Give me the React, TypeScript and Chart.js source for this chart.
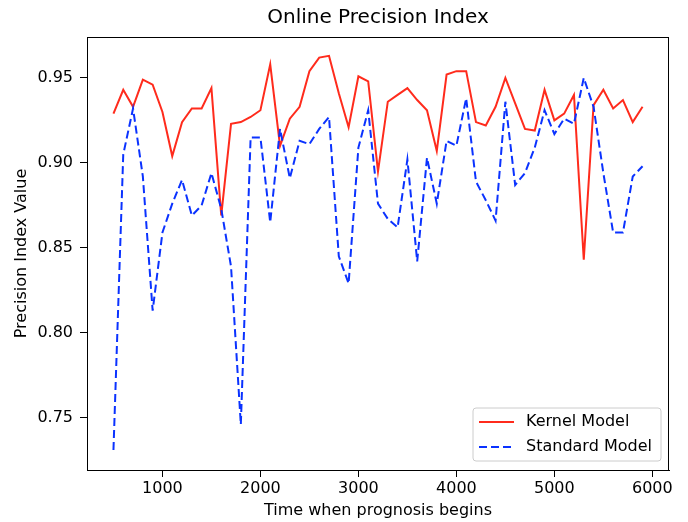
import React, { useEffect, useRef } from "react";
import { Chart, registerables } from "chart.js";

Chart.register(...registerables);

const startTimes = [
  500, 600, 700, 800, 900, 1000, 1100, 1200, 1300, 1400,
  1500, 1600, 1700, 1800, 1900, 2000, 2100, 2200, 2300, 2400,
  2500, 2600, 2700, 2800, 2900, 3000, 3100, 3200, 3300, 3400,
  3500, 3600, 3700, 3800, 3900, 4000, 4100, 4200, 4300, 4400,
  4500, 4600, 4700, 4800, 4900, 5000, 5100, 5200, 5300, 5400,
  5500, 5600, 5700, 5800, 5900,
];

const kernelModel = [
  0.929, 0.943, 0.933, 0.949, 0.946, 0.930, 0.904, 0.924, 0.932, 0.932,
  0.944, 0.869, 0.923, 0.924, 0.927, 0.931, 0.958, 0.910, 0.926, 0.933,
  0.954, 0.962, 0.963, 0.941, 0.921, 0.951, 0.948, 0.895, 0.936, 0.940,
  0.944, 0.937, 0.931, 0.907, 0.952, 0.954, 0.954, 0.924, 0.922, 0.933,
  0.950, 0.935, 0.920, 0.919, 0.943, 0.925, 0.929, 0.940, 0.843, 0.934,
  0.943, 0.932, 0.937, 0.924, 0.933,
];

const standardModel = [
  0.731, 0.905, 0.932, 0.892, 0.813, 0.859, 0.876, 0.890, 0.869, 0.875,
  0.894, 0.873, 0.839, 0.746, 0.915, 0.915, 0.865, 0.920, 0.891, 0.913,
  0.911, 0.920, 0.927, 0.845, 0.829, 0.909, 0.931, 0.876, 0.867, 0.862,
  0.902, 0.842, 0.903, 0.876, 0.913, 0.910, 0.938, 0.889, 0.878, 0.866,
  0.936, 0.887, 0.894, 0.909, 0.931, 0.917, 0.926, 0.923, 0.950, 0.933,
  0.894, 0.859, 0.859, 0.892, 0.898,
];

const xTicks = [1000, 2000, 3000, 4000, 5000, 6000];
const yTicks = [0.75, 0.8, 0.85, 0.9, 0.95];

const seriesNames = ["Kernel Model", "Standard Model"];
const chartTitle = "Online Precision Index";
const xLabel = "Time when prognosis begins";
const yLabel = "Precision Index Value";

const FONT = "'DejaVu Sans', sans-serif";
const RED = "#ff2b1c";
const BLUE = "#0a32ff";

const decorPlugin = {
  id: "decor",
  afterDraw(chart: any) {
    const { ctx, chartArea } = chart;
    const { left, right, top, bottom } = chartArea;
    ctx.save();
    // frame
    ctx.strokeStyle = "#000";
    ctx.lineWidth = 1;
    ctx.strokeRect(Math.round(left) + 0.5, Math.round(top) + 0.5, Math.round(right - left) - 1, Math.round(bottom - top));

    // title
    ctx.fillStyle = "#000";
    ctx.textAlign = "center";
    ctx.textBaseline = "middle";
    ctx.font = `20px ${FONT}`;
    ctx.fillText(chartTitle, (left + right) / 2, 18);

    // x label
    ctx.font = `16px ${FONT}`;
    ctx.fillText(xLabel, (left + right) / 2, 511);

    // y label
    ctx.save();
    ctx.translate(22, (top + bottom) / 2);
    ctx.rotate(-Math.PI / 2);
    ctx.fillText(yLabel, 0, 0);
    ctx.restore();

    // legend
    const bx = 473, by = 408, bw = 188, bh = 53, r = 3;
    ctx.beginPath();
    ctx.moveTo(bx + r, by);
    ctx.lineTo(bx + bw - r, by);
    ctx.quadraticCurveTo(bx + bw, by, bx + bw, by + r);
    ctx.lineTo(bx + bw, by + bh - r);
    ctx.quadraticCurveTo(bx + bw, by + bh, bx + bw - r, by + bh);
    ctx.lineTo(bx + r, by + bh);
    ctx.quadraticCurveTo(bx, by + bh, bx, by + bh - r);
    ctx.lineTo(bx, by + r);
    ctx.quadraticCurveTo(bx, by, bx + r, by);
    ctx.closePath();
    ctx.fillStyle = "rgba(255,255,255,0.8)";
    ctx.fill();
    ctx.strokeStyle = "#cccccc";
    ctx.lineWidth = 1;
    ctx.stroke();

    const rows = [
      { name: seriesNames[0], color: RED, dash: [] as number[], y: 422 },
      { name: seriesNames[1], color: BLUE, dash: [8, 4], y: 447 },
    ];
    rows.forEach((row) => {
      ctx.beginPath();
      ctx.setLineDash(row.dash);
      ctx.strokeStyle = row.color;
      ctx.lineWidth = 2;
      ctx.moveTo(479, row.y);
      ctx.lineTo(514, row.y);
      ctx.stroke();
      ctx.setLineDash([]);
      ctx.fillStyle = "#000";
      ctx.textAlign = "left";
      ctx.textBaseline = "middle";
      ctx.font = `16px ${FONT}`;
      ctx.fillText(row.name, 526, row.y);
    });
    ctx.restore();
  },
};

export default function App() {
  const canvasRef = useRef<HTMLCanvasElement>(null);

  useEffect(() => {
    const canvas = canvasRef.current;
    if (!canvas) return;
    const chart = new Chart(canvas, {
      type: "line",
      data: {
        datasets: [
          {
            label: seriesNames[0],
            data: startTimes.map((x, i) => ({ x, y: kernelModel[i] })),
            borderColor: RED,
            borderWidth: 2,
            pointRadius: 0,
            tension: 0,
            fill: false,
            order: 1,
          },
          {
            label: seriesNames[1],
            data: startTimes.map((x, i) => ({ x, y: standardModel[i] })),
            borderColor: BLUE,
            borderWidth: 2,
            borderDash: [8, 4],
            pointRadius: 0,
            tension: 0,
            fill: false,
            order: 0,
          },
        ],
      },
      options: {
        responsive: false,
        animation: false,
        layout: { padding: { top: 37, right: 19, left: 0, bottom: 0 } },
        plugins: {
          legend: { display: false },
          title: { display: false },
          tooltip: { enabled: false },
        },
        scales: {
          x: {
            type: "linear",
            min: 230,
            max: 6170,
            afterBuildTicks: (scale: any) => {
              scale.ticks = xTicks.map((v) => ({ value: v }));
            },
            afterFit: (scale: any) => {
              scale.height = 52;
            },
            ticks: {
              color: "#000",
              font: { family: FONT, size: 16 },
              padding: 2,
              maxRotation: 0,
              autoSkip: false,
              callback: (v: any) => String(v),
            },
            grid: {
              drawOnChartArea: false,
              drawTicks: true,
              tickLength: 7,
              tickColor: "#000",
              color: "#000",
            },
            border: { display: true, color: "#000", width: 1 },
          },
          y: {
            type: "linear",
            min: 0.7192,
            max: 0.9741,
            afterBuildTicks: (scale: any) => {
              scale.ticks = yTicks.map((v) => ({ value: v }));
            },
            afterFit: (scale: any) => {
              scale.width = 87;
            },
            ticks: {
              color: "#000",
              font: { family: FONT, size: 16 },
              padding: 7,
              autoSkip: false,
              callback: (v: any) => Number(v).toFixed(2),
            },
            grid: {
              drawOnChartArea: false,
              drawTicks: true,
              tickLength: 7,
              tickColor: "#000",
              color: "#000",
            },
            border: { display: true, color: "#000", width: 1 },
          },
        },
      },
      plugins: [decorPlugin],
    });
    return () => chart.destroy();
  }, []);

  return (
    <div style={{ position: "fixed", left: 0, top: 0, width: 688, height: 522, background: "#fff" }}>
      <canvas ref={canvasRef} width={688} height={522} style={{ display: "block" }} />
    </div>
  );
}
